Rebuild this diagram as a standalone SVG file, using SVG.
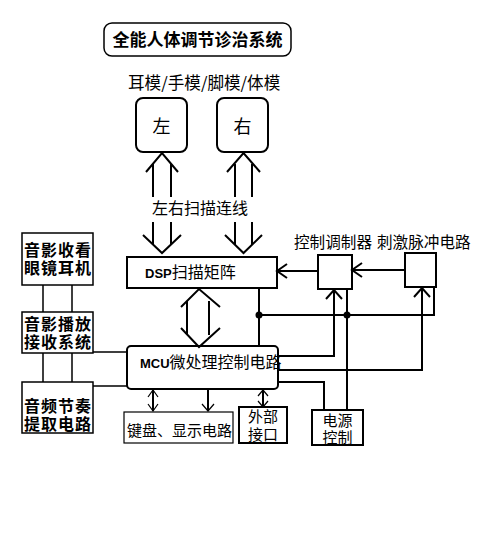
<svg xmlns="http://www.w3.org/2000/svg" width="483" height="540" viewBox="0 0 483 540">
<style>
.bx{fill:none;stroke:#000;stroke-width:2}
.bt{fill:none;stroke:#000;stroke-width:1.5}
.ln{fill:none;stroke:#000;stroke-width:2}
.th{fill:none;stroke:#000;stroke-width:1.2}
.t{font-family:"Noto Sans CJK SC","Liberation Sans",sans-serif;fill:#000}
.t2{font-family:"Liberation Sans","Noto Sans CJK SC",sans-serif;fill:#000}
.b{font-weight:bold}
.sb{font-weight:bold;font-size:16px;letter-spacing:1px}
.lat{font-family:"Liberation Sans","DejaVu Sans",sans-serif;font-weight:bold}
</style>
<rect width="483" height="540" fill="#fff"/>
<g id="title">
<rect class="bt" x="104" y="23" width="187" height="33" rx="8"/>
<text class="t b" x="197.5" y="46" font-size="17" text-anchor="middle">全能人体调节诊治系统</text>
</g>
<g id="mold-label"><text class="t" x="128" y="89" font-size="16.6">耳模/手模/脚模/体模</text></g>
<g id="left"><rect class="ln" x="136" y="98" width="51" height="54" rx="7"/><text class="t" x="161.5" y="133" font-size="18" text-anchor="middle">左</text></g>
<g id="right"><rect class="ln" x="217" y="98" width="51" height="54" rx="7"/><text class="t" x="242.5" y="133" font-size="18" text-anchor="middle">右</text></g>
<g id="scan-label"><text class="t" x="200" y="214" font-size="16" text-anchor="middle">左右扫描连线</text></g>
<g id="dsp">
<rect class="bx" x="127" y="257" width="150" height="31"/>
<text class="t" x="145" y="278" font-size="16"><tspan class="lat" font-size="13">DSP</tspan>扫描矩阵</text>
</g>
<g id="mod"><rect class="bx" x="318" y="255" width="34" height="34"/></g>
<g id="pulse"><rect class="bx" x="405" y="253" width="31" height="34"/></g>
<g id="mod-pulse-label">
<text class="t" x="294" y="248" font-size="15.6">控制调制器</text>
<text class="t" x="377" y="248" font-size="15.6">刺激脉冲电路</text>
</g>
<g id="mcu">
<rect class="bx" x="127" y="346" width="151" height="43" rx="4"/>
<text class="t" x="140" y="368" font-size="16"><tspan class="lat" font-size="13">MCU</tspan>微处理控制电路</text>
</g>
<g id="av-glasses"><rect class="bt" x="22" y="233" width="71" height="52"/>
<text class="t2 sb" text-anchor="middle"><tspan x="58" y="256">音影收看</tspan><tspan x="58" y="274">眼镜耳机</tspan></text></g>
<g id="av-play"><rect class="bt" x="22" y="312" width="71" height="41"/>
<text class="t2 sb" text-anchor="middle"><tspan x="58" y="329.5">音影播放</tspan><tspan x="58" y="347.5">接收系统</tspan></text></g>
<g id="audio"><rect class="bt" x="22" y="382" width="71" height="51"/>
<text class="t2 sb" text-anchor="middle"><tspan x="58" y="411.5">音频节奏</tspan><tspan x="58" y="429.5">提取电路</tspan></text></g>
<g id="keyboard"><rect class="th" x="124" y="412" width="109" height="31"/>
<text class="t" x="127" y="436" font-size="15">键盘、显示电路</text></g>
<g id="ext"><rect class="bx" x="239" y="407" width="48" height="36"/>
<text class="t2" font-size="15" text-anchor="middle"><tspan x="263" y="422">外部</tspan><tspan x="263" y="440">接口</tspan></text></g>
<g id="power"><rect class="bx" x="312" y="410" width="51" height="35"/>
<text class="t2" font-size="15" text-anchor="middle"><tspan x="337.5" y="426">电源</tspan><tspan x="337.5" y="443">控制</tspan></text></g>
<g id="connectors">
<path class="ln" d="M153 164V197M171 164V197M146 172L162 153L178 172"/>
<path class="ln" d="M235 164V197M252 164V197M227 172L243.5 153L260 172"/>
<path class="ln" d="M153 222V245M171 222V245M143 235L162 253L181 235"/>
<path class="ln" d="M235 222V245M252 222V245M225 235L243.5 253L262 235"/>
<path class="ln" d="M187 301V335M209 301V335M181 307L199 289L220 307M181 328L199 347L220 328"/>
<path class="ln" d="M277 271H318M287 264L277 271L287 278"/>
<path class="ln" d="M352 270H405M362 263L352 270L362 277"/>
<path class="ln" d="M259 288V346M259 315H434V287M347 289V410"/>
<circle cx="259" cy="315" r="3.5"/>
<circle cx="347" cy="315" r="3.5"/>
<path class="ln" d="M278 356H334V290M326 299L334 290L342 299"/>
<path class="ln" d="M278 370H422V288M414 297L422 288L430 297"/>
<path class="ln" d="M278 382H324V410"/>
<path class="bt" d="M43 285V312M72 285V312M43 353V382M72 353V382M93 352H127M93 386H127"/>
<path class="ln" d="M153 390V411"/><path class="th" d="M148 397L153 390L158 397M148 404L153 411L158 404"/>
<path class="ln" d="M208 390V411"/><path class="th" d="M202 404L208 411L214 404"/>
<path class="ln" d="M263 390V407"/><path class="th" d="M258 396L263 390L268 396M258 401L263 407L268 401"/>
</g>
</svg>
